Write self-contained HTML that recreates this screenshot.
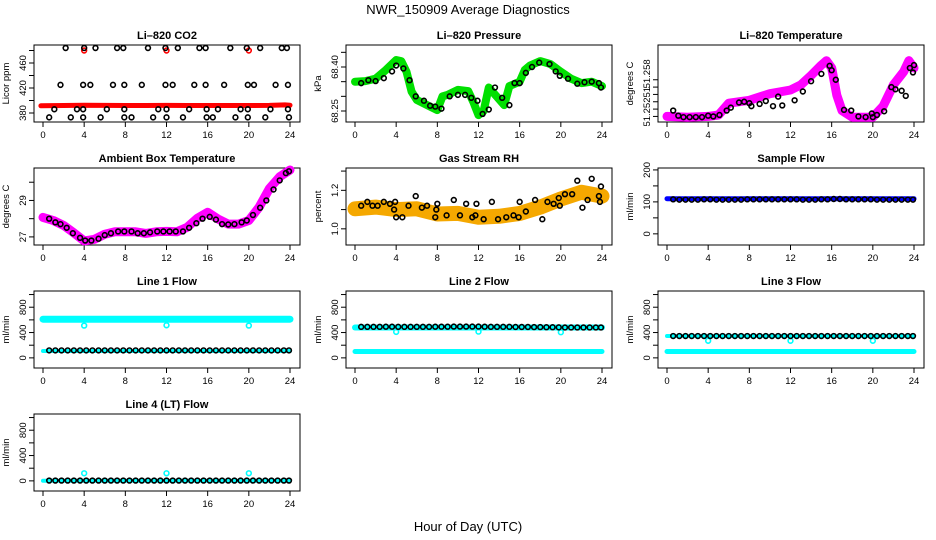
<!DOCTYPE html>
<html><head><meta charset="utf-8"><style>
body{margin:0;background:#fff}
svg{display:block;font-family:"Liberation Sans",Arial,sans-serif}
.t{font-size:11px;font-weight:bold;text-anchor:middle}
.l{font-size:9.5px;text-anchor:middle}
</style></head><body>
<svg id="c" width="936" height="540" viewBox="0 0 936 540">
<text x="468" y="14" font-size="13" text-anchor="middle">NWR_150909  Average Diagnostics</text>
<text x="468" y="531" font-size="13" text-anchor="middle">Hour of Day (UTC)</text>
</svg>
<script>
// ---- data ----
const xTicks=[0,4,8,12,16,20,24];
const co2T=[0.6,2.7,3.9,5.6,7.9,8.6,10.7,12.0,13.6,15.9,16.5,18.7,19.9,21.6,23.9,1.1,3.3,3.9,6.2,7.9,11.2,12.0,14.2,15.9,17.0,19.2,19.9,22.1,23.8,1.7,3.9,4.6,6.8,7.9,9.6,11.9,12.6,14.7,15.8,17.6,19.9,20.5,22.6,23.8,2.2,4.0,5.1,7.2,7.8,10.2,11.9,13.1,15.2,15.8,18.2,19.8,21.1,23.2,23.7];
const co2V=[373,373,373,373,373,373,373,373,373,373,373,373,373,373,373,386,386,386,386,386,386,386,386,386,386,386,386,386,386,425,425,425,425,425,425,425,425,425,425,425,425,425,425,425,484,484,484,484,484,484,484,484,484,484,484,484,484,484,484];
const co2BandT=[-0.2,2,4,6,8,10,12,14,16,18,20,22,23.5,24];
const co2BandV=[391.5,392,392.5,392.2,392,392,392.2,392,392,392,392,392.2,393,392.5];
const co2RedT=[4,12,20];
const co2RedV=[480,480,480];
const presT=[0,1,2,3,4,4.5,5,5.5,6,7,8,8.5,9,10,11,11.5,12,12.5,13,14,14.5,15,16,16.5,17,18,19,20,21,22,23,24];
const presV=[68.35,68.352,68.36,68.39,68.424,68.42,68.384,68.316,68.288,68.27,68.253,68.30,68.305,68.322,68.318,68.28,68.236,68.25,68.33,68.29,68.27,68.335,68.35,68.39,68.405,68.42,68.41,68.384,68.36,68.345,68.35,68.335];
const presBT=[0.6,1.3,2,2.8,3.6,4,4.7,5.3,5.9,6.7,7.3,7.8,8.4,9.2,10,10.7,11.3,11.9,12.4,13,13.6,14.3,15,15.5,16,16.6,17.2,17.9,18.9,19.5,19.9,20.7,21.6,22.3,23,23.7,23.9];
const presBV=[68.345,68.355,68.352,68.362,68.385,68.405,68.395,68.355,68.3,68.285,68.268,68.265,68.258,68.3,68.305,68.305,68.295,68.285,68.24,68.255,68.33,68.295,68.27,68.345,68.345,68.38,68.40,68.415,68.41,68.385,68.37,68.36,68.343,68.348,68.35,68.345,68.33];
const tempT=[0,2,4,5,6,8,10,12,13,14,15,15.5,16,16.5,17,18,20,21,22,23,23.5,24];
const tempV=[51.2514,51.2513,51.2514,51.2516,51.2532,51.2536,51.2545,51.255,51.2557,51.257,51.2584,51.259,51.258,51.2543,51.2522,51.2513,51.2513,51.2528,51.2557,51.2575,51.259,51.258];
const tempBT=[0.6,1.1,1.6,2.2,2.8,3.4,4.0,4.5,5.1,5.8,6.2,7.0,7.5,8.0,8.2,9.0,9.6,10.3,10.8,11.2,12.4,13.2,14.0,15.0,15.8,16.0,16.4,17.2,17.9,18.6,19.3,19.9,20.0,20.4,21.1,21.8,22.2,22.8,23.2,23.6,23.9,24.0];
const tempBV=[51.2522,51.2515,51.2513,51.2513,51.2513,51.2513,51.2515,51.2514,51.2516,51.2522,51.2526,51.2533,51.2534,51.2532,51.2528,51.2531,51.2535,51.2528,51.2541,51.2529,51.2536,51.2548,51.2562,51.2572,51.2583,51.2577,51.2564,51.2523,51.2522,51.2514,51.2513,51.2518,51.2513,51.2516,51.2521,51.2554,51.2551,51.2549,51.2542,51.2580,51.2574,51.2584];
const ambT=[0,1,2,3,4,5,6,7,8,9,10,11,12,13,14,15,16,17,18,19,20,21,22,23,24];
const ambV=[28.07,27.9,27.63,27.22,26.78,26.87,27.15,27.28,27.28,27.28,27.19,27.28,27.3,27.28,27.52,28.02,28.35,27.98,27.7,27.7,27.9,28.63,29.65,30.3,30.67];
const ambBT=[0.6,1.2,1.7,2.3,2.9,3.6,4.1,4.7,5.4,6.0,6.6,7.3,7.9,8.6,9.2,9.8,10.4,11.1,11.7,12.3,12.9,13.6,14.2,14.9,15.5,16.2,16.8,17.4,18.0,18.6,19.3,19.8,20.4,21.1,21.7,22.4,23.0,23.6,23.9];
const ambBV=[28.0,27.8,27.7,27.5,27.2,26.95,26.8,26.8,26.9,27.1,27.2,27.3,27.3,27.3,27.2,27.2,27.25,27.3,27.3,27.3,27.3,27.3,27.5,27.75,28.0,28.1,27.95,27.7,27.68,27.7,27.8,27.9,28.2,28.6,29.0,29.6,30.1,30.5,30.6];
const rhT=[0,2,4,6,8,10,12,14,16,18,20,22,24];
const rhV=[1.104,1.113,1.1,1.104,1.077,1.08,1.06,1.065,1.08,1.113,1.155,1.19,1.17];
const rhBT=[0.6,1.2,1.7,2.2,2.8,3.4,3.8,3.9,4.0,4.6,5.2,5.9,6.5,7.0,7.8,7.9,8.0,8.9,9.6,10.2,10.8,11.4,11.7,11.8,12.5,13.3,13.9,14.7,15.4,15.9,16.0,16.6,17.5,18.2,18.7,19.3,19.8,19.9,20.4,21.1,21.6,22.1,22.6,23.0,23.7,23.8,23.9];
const rhBV=[1.12,1.14,1.12,1.12,1.14,1.13,1.1,1.14,1.06,1.06,1.12,1.17,1.11,1.12,1.06,1.1,1.13,1.07,1.15,1.07,1.13,1.06,1.07,1.13,1.05,1.14,1.05,1.06,1.07,1.06,1.14,1.09,1.15,1.05,1.14,1.13,1.16,1.12,1.18,1.18,1.25,1.11,1.15,1.26,1.17,1.14,1.22];
const flowT=[0.6,1.2,1.8,2.4,3.0,3.6,4.2,4.8,5.4,6.0,6.6,7.2,7.8,8.4,9.0,9.6,10.2,10.8,11.4,12.0,12.6,13.2,13.8,14.4,15.0,15.6,16.2,16.8,17.4,18.0,18.6,19.2,19.8,20.4,21.0,21.6,22.2,22.8,23.4,23.9];
const sampleV=[108,107,107,107,107,108,108,107,107,107,107,107,108,108,108,108,108,108,108,108,108,107,107,107,108,108,109,109,108,108,108,108,108,107,107,107,107,107,107,107];
const line1V=[118,118,118,118,118,118,118,118,118,118,118,118,118,118,118,118,118,118,118,118,118,118,118,118,118,118,118,118,118,118,118,118,118,118,118,118,118,118,118,118];
const line2V=[490,490,490,490,492,492,490,490,490,490,490,490,492,492,492,494,494,494,494,494,492,490,490,490,490,488,488,488,486,486,484,484,482,480,480,480,480,480,480,480];
const line3V=[345,345,345,345,345,345,345,345,345,345,345,345,345,345,345,345,345,345,345,345,345,345,345,345,345,345,345,345,345,345,345,345,345,345,345,345,345,345,345,345];
const line4V=[5,5,5,5,5,5,5,5,5,5,5,5,5,5,5,5,5,5,5,5,5,5,5,5,5,5,5,5,5,5,5,5,5,5,5,5,5,5,5,5];
const cyanBandT=[0,24];
const line1HiV=[610,610];
const line1LoV=[108,108];
const line2LoV=[100,100];
const line2HiV=[480,480];
const line3LoV=[100,100];
const line3HiV=[345,345];
const line4LoV=[3,3];
const samplBandV=[110,110];
const outT=[4,12,20];
const out1V=[510,515,510];
const out2V=[410,415,405];
const out3V=[270,270,270];
const out4V=[120,120,120];

// ---- drawing ----
const svg=document.getElementById('c');
const NS='http://www.w3.org/2000/svg';
function mk(tag,attrs,parent){const e=document.createElementNS(NS,tag);for(const k in attrs)e.setAttribute(k,attrs[k]);(parent||svg).appendChild(e);return e;}
function panel(col,row,name,title,ylab,ymin,ymax,ticks,labels){
  const L=34+col*312,R=300+col*312,T=45+row*123,B=122+row*123;
  const g=mk('g',{});
  
  
  const xs=t=>L+9+t/24*247;
  const ys=v=>B-(v-ymin)/(ymax-ymin)*(B-T);
  const box=mk('rect',{x:L,y:T,width:R-L,height:B-T,fill:'none',stroke:'#000','stroke-width':1},g);
  
  
  const tt=mk('text',{x:(L+R)/2,y:T-6,class:'t'},g);tt.textContent=title;
  
  
  const yl=mk('text',{class:'l',transform:`translate(${L-25},${(T+B)/2}) rotate(-90)`},g);yl.textContent=ylab;
  
  
  xTicks.forEach(t=>{mk('line',{x1:xs(t),x2:xs(t),y1:B,y2:B+5,stroke:'#000'},g);
    const tx=mk('text',{x:xs(t),y:B+16,class:'l'},g);tx.textContent=t;
    
    });
  ticks.forEach(v=>mk('line',{x1:L,x2:L-5,y1:ys(v),y2:ys(v),stroke:'#000'},g));
  labels.forEach(([v,s])=>{const tx=mk('text',{class:'l',transform:`translate(${L-8},${ys(v)}) rotate(-90)`},g);tx.textContent=s;
    
    });
  return {g,xs,ys};
}
function band(p,T,V,color,w,name){
  const d=T.map((t,i)=>(i?'L':'M')+p.xs(t).toFixed(1)+','+p.ys(V[i]).toFixed(1)).join('');
  const e=mk('path',{d,fill:'none',stroke:color,'stroke-width':w,'stroke-linecap':'round','stroke-linejoin':'round'},p.g);
  
  
}
function pts(p,T,V,color,name,r){
  T.forEach((t,i)=>{const c=mk('circle',{cx:p.xs(t),cy:p.ys(V[i]),r:r||2.4,fill:'none',stroke:color,'stroke-width':1.6},p.g);
    
    });
}
const flowTicks=[0,200,400,600,800,1000],flowLab=[[0,'0'],[400,'400'],[800,'800']];
// CO2
let p=panel(0,0,'co2','Li–820 CO2','Licor ppm',365.6,488.8,[380,400,420,440,460,480],[[380,'380'],[420,'420'],[460,'460']]);
band(p,co2BandT,co2BandV,'#f00',5,'co2-band');
pts(p,co2RedT,co2RedV,'#f00','co2-red-point');
pts(p,co2T,co2V,'#000','co2-point');
// Pressure
p=panel(1,0,'pressure','Li–820 Pressure','kPa',68.2125,68.475,[68.25,68.30,68.35,68.40,68.45],[[68.25,'68.25'],[68.40,'68.40']]);
band(p,presT,presV,'#00e000',8,'pressure-band');
pts(p,presBT,presBV,'#000','pressure-point');
// Li-820 temperature
p=panel(2,0,'li820-temp','Li–820 Temperature','degrees C',51.25064,51.26114,[51.2514,51.2524,51.2534,51.2544,51.2554,51.2564],[[51.2520,'51.252'],[51.2547,'51'],[51.2572,'51.258']]);
band(p,tempT,tempV,'#f0f',9,'li820-temp-band');
pts(p,tempBT,tempBV,'#000','li820-temp-point');
// Ambient
p=panel(0,1,'ambient','Ambient Box Temperature','degrees C',26.556,30.78,[27,28,29,30],[[27,'27'],[29,'29']]);
band(p,ambT,ambV,'#f0f',9,'ambient-band');
pts(p,ambBT,ambBV,'#000','ambient-point');
// RH
p=panel(1,1,'rh','Gas Stream RH','percent',0.916,1.316,[1.0,1.1,1.2,1.3],[[1.0,'1.0'],[1.2,'1.2']]);
band(p,rhT,rhV,'#f5a800',15,'rh-band');
pts(p,rhBT,rhBV,'#000','rh-point');
// Sample flow
p=panel(2,1,'sample-flow','Sample Flow','ml/min',-34.9,206,[0,50,100,150,200],[[0,'0'],[100,'100'],[200,'200']]);
band(p,cyanBandT,samplBandV,'#00f',5,'sample-band');
pts(p,flowT,sampleV,'#000','sample-point');
// Line 1
p=panel(0,2,'line1','Line 1 Flow','ml/min',-160,1056,flowTicks,flowLab);
band(p,cyanBandT,line1HiV,'#0ff',7,'line1-high-band');
band(p,cyanBandT,line1LoV,'#0ff',4,'line1-low-band');
pts(p,outT,out1V,'#0ff','line1-outlier');
pts(p,flowT,line1V,'#000','line1-point');
// Line 2
p=panel(1,2,'line2','Line 2 Flow','ml/min',-160,1056,flowTicks,flowLab);
band(p,cyanBandT,line2HiV,'#0ff',6,'line2-high-band');
band(p,cyanBandT,line2LoV,'#0ff',5,'line2-low-band');
pts(p,outT,out2V,'#0ff','line2-outlier');
pts(p,flowT,line2V,'#000','line2-point');
// Line 3
p=panel(2,2,'line3','Line 3 Flow','ml/min',-160,1056,flowTicks,flowLab);
band(p,cyanBandT,line3HiV,'#0ff',4,'line3-high-band');
band(p,cyanBandT,line3LoV,'#0ff',5,'line3-low-band');
pts(p,outT,out3V,'#0ff','line3-outlier');
pts(p,flowT,line3V,'#000','line3-point');
// Line 4
p=panel(0,3,'line4','Line 4 (LT) Flow','ml/min',-160,1056,flowTicks,flowLab);
band(p,cyanBandT,line4LoV,'#0ff',4,'line4-band');
pts(p,outT,out4V,'#0ff','line4-outlier');
pts(p,flowT,line4V,'#000','line4-point');
</script>
</body></html>
